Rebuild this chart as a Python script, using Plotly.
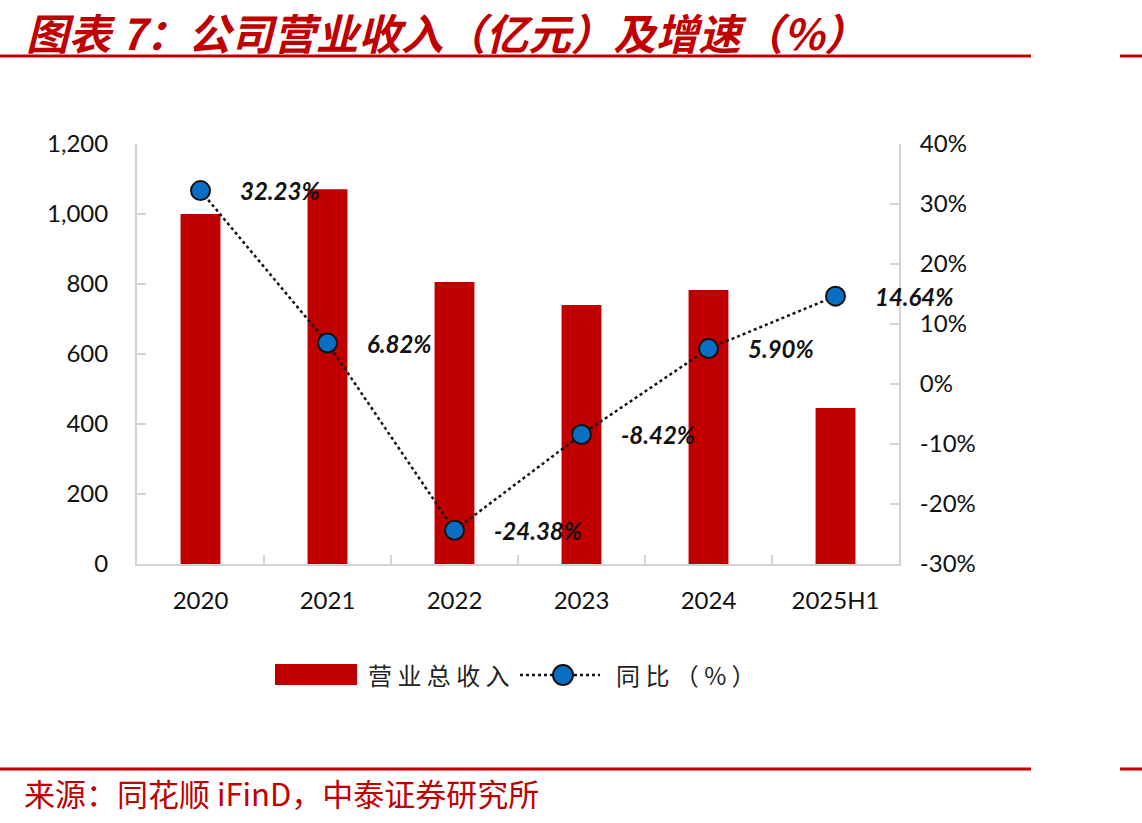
import plotly.graph_objects as go

categories = ["2020", "2021", "2022", "2023", "2024", "2025H1"]
revenue = [1000, 1071, 806, 740, 783, 446]
growth = [32.23, 6.82, -24.38, -8.42, 5.90, 14.64]
growth_labels = ["32.23%", "6.82%", "-24.38%", "-8.42%", "5.90%", "14.64%"]
left_ticks = [0, 200, 400, 600, 800, 1000, 1200]
right_ticks = [-30, -20, -10, 0, 10, 20, 30, 40]

RED = "#c00000"
BLUE = "#0a6fc2"
AXIS = "#d4d4d4"
NUM_FONT = "Lato, 'Noto Sans CJK SC', sans-serif"
CJK_FONT = "'Noto Sans CJK SC', sans-serif"

W, H = 1142, 823
L, R, T, B = 137, 899, 144, 564  # plot area in pixels


def px(x):
    return (x - L) / (R - L)


def py(y):
    return (B - y) / (B - T)


fig = go.Figure()
fig.add_trace(go.Bar(
    x=categories, y=revenue, marker=dict(color=RED, line=dict(width=0)),
    name="营业总收入", yaxis="y", showlegend=False,
))
fig.add_trace(go.Scatter(
    x=categories, y=growth, yaxis="y2", mode="lines+markers",
    line=dict(color="#111111", width=2.5, dash="dot"),
    marker=dict(color=BLUE, size=19, line=dict(color="#111111", width=2)),
    name="同比（%）", showlegend=False,
))

annotations = []
for i, (g, t) in enumerate(zip(growth, growth_labels)):
    annotations.append(dict(
        x=i, y=g, xref="x", yref="y2", text=f"<b><i>{t}</i></b>",
        showarrow=False, xanchor="left", yanchor="middle", xshift=37,
        font=dict(family=NUM_FONT, size=24, color="#111111"),
    ))


def paper_text(x, y, text, size, color, family=CJK_FONT):
    return dict(x=px(x), y=py(y), xref="paper", yref="paper", text=text,
                showarrow=False, xanchor="left", yanchor="middle",
                font=dict(family=family, size=size, color=color))


annotations += [
    paper_text(24, 31, "<b><i>图表 7：公司营业收入（亿元）及增速（%）</i></b>", 42.5, RED),
    paper_text(22, 793, "来源：同花顺 iFinD，中泰证券研究所", 31, RED),
    paper_text(366, 674, "营 业 总 收 入", 24, "#222222"),
    paper_text(614, 674, "同 比 （ % ）", 24, "#222222"),
]

shapes = [
    dict(type="line", xref="paper", yref="paper", x0=px(0), x1=px(1031), y0=py(56), y1=py(56),
         line=dict(color=RED, width=3)),
    dict(type="line", xref="paper", yref="paper", x0=px(1120), x1=px(W), y0=py(56), y1=py(56),
         line=dict(color=RED, width=3)),
    dict(type="line", xref="paper", yref="paper", x0=px(0), x1=px(1031), y0=py(769), y1=py(769),
         line=dict(color=RED, width=3)),
    dict(type="line", xref="paper", yref="paper", x0=px(1120), x1=px(W), y0=py(769), y1=py(769),
         line=dict(color=RED, width=3)),
    # legend
    dict(type="rect", xref="paper", yref="paper", x0=px(275), x1=px(357), y0=py(685), y1=py(664),
         fillcolor=RED, line=dict(width=0)),
    dict(type="line", xref="paper", yref="paper", x0=px(520), x1=px(600), y0=py(675), y1=py(675),
         line=dict(color="#111111", width=2.5, dash="dot")),
    dict(type="circle", xref="paper", yref="paper", x0=px(553), x1=px(573), y0=py(685), y1=py(665),
         fillcolor=BLUE, line=dict(color="#111111", width=2)),
]

fig.update_layout(
    width=W, height=H,
    margin=dict(l=L, r=W - R, t=T, b=H - B, autoexpand=False),
    paper_bgcolor="white", plot_bgcolor="white",
    bargap=0.686,
    showlegend=False,
    xaxis=dict(
        type="category", range=[-0.5, len(categories) - 0.5], autorange=False,
        showline=True, linecolor=AXIS, linewidth=2,
        ticks="inside", tickson="boundaries", ticklen=9, tickcolor=AXIS, tickwidth=2,
        tickfont=dict(family=NUM_FONT, size=24, color="#111111"), tickangle=0,
        showgrid=False, zeroline=False, ticklabelstandoff=14,
    ),
    yaxis=dict(
        range=[0, 1200], autorange=False, tickvals=left_ticks,
        ticktext=[f"{v:,}" for v in left_ticks],
        showline=True, linecolor=AXIS, linewidth=2,
        ticks="inside", ticklen=9, tickcolor=AXIS, tickwidth=2,
        tickfont=dict(family=NUM_FONT, size=24, color="#111111"),
        showgrid=False, zeroline=False, ticklabelstandoff=22,
    ),
    yaxis2=dict(
        range=[-30, 40], autorange=False, tickvals=right_ticks,
        ticktext=[f"{v}%" for v in right_ticks],
        overlaying="y", side="right",
        showline=True, linecolor=AXIS, linewidth=2,
        ticks="inside", ticklen=9, tickcolor=AXIS, tickwidth=2,
        tickfont=dict(family=NUM_FONT, size=24, color="#111111"),
        showgrid=False, zeroline=False, ticklabelstandoff=14,
    ),
    annotations=annotations,
    shapes=shapes,
)

fig.write_html("out.html")
